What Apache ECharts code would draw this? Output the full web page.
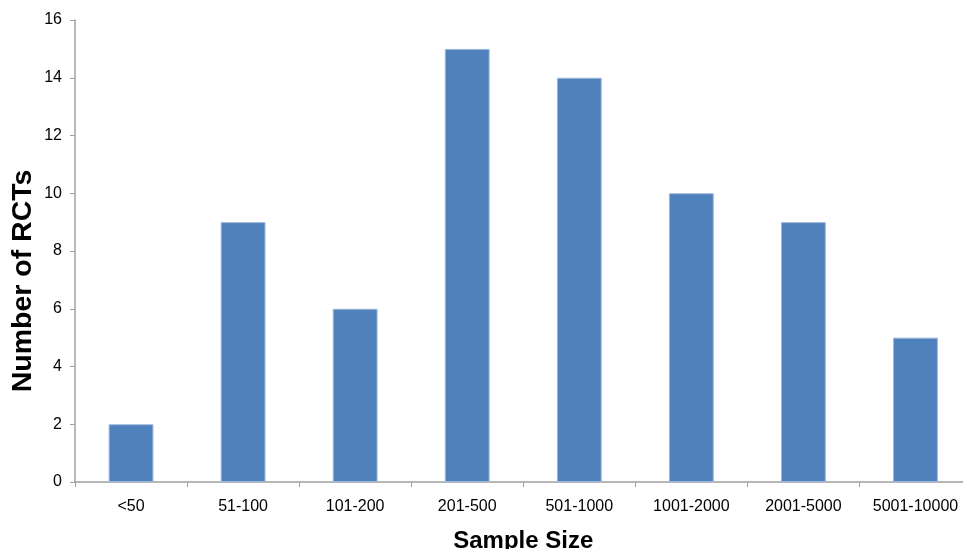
<!DOCTYPE html>
<html>
<head>
<meta charset="utf-8">
<script src="https://cdn.jsdelivr.net/npm/echarts@6/dist/echarts.min.js"></script>
<style>html,body{margin:0;padding:0;background:#fff}#c{width:963px;height:549px}</style>
</head>
<body>
<div id="c"></div>
<script>
var categories = ['<50', '51-100', '101-200', '201-500', '501-1000', '1001-2000', '2001-5000', '5001-10000'];
var counts = [2, 9, 6, 15, 14, 10, 9, 5];
var yTicks = {min: 0, max: 16, interval: 2};

var chart = echarts.init(document.getElementById('c'), null, {renderer: 'canvas'});
chart.setOption({
  animation: false,
  grid: {left: 75, right: -8.5, top: 20, bottom: 67, containLabel: false, outerBoundsMode: 'none'},
  xAxis: {
    type: 'category',
    data: categories,
    name: 'Sample Size',
    nameLocation: 'middle',
    nameGap: 47,
    nameTextStyle: {fontFamily: 'Liberation Sans, Arial', fontWeight: 'bold', fontSize: 24, color: '#000'},
    axisLine: {lineStyle: {color: '#A0A0A0', width: 1.5}},
    axisTick: {show: true, alignWithLabel: false, length: 5, lineStyle: {color: '#A0A0A0'}},
    axisLabel: {fontFamily: 'Liberation Sans, Arial', fontSize: 16, color: '#000', margin: 17, interval: 0}
  },
  yAxis: {
    type: 'value',
    min: yTicks.min, max: yTicks.max, interval: yTicks.interval,
    name: 'Number of RCTs',
    nameLocation: 'middle',
    nameGap: 37,
    nameMoveOverlap: false,
    nameTextStyle: {fontFamily: 'Liberation Sans, Arial', fontWeight: 'bold', fontSize: 28.5, color: '#000', padding: [0, 60, 0, 0]},
    axisLine: {show: true, lineStyle: {color: '#A0A0A0', width: 1.5}},
    axisTick: {show: true, length: 5, lineStyle: {color: '#A0A0A0'}},
    splitLine: {show: false},
    axisLabel: {fontFamily: 'Liberation Sans, Arial', fontSize: 16, color: '#000', margin: 13}
  },
  series: [{
    type: 'bar',
    data: counts,
    barWidth: '40%',
    itemStyle: {color: '#4F81BD', borderColor: '#9DB8DC', borderWidth: 1}
  }]
});
</script>
</body>
</html>
